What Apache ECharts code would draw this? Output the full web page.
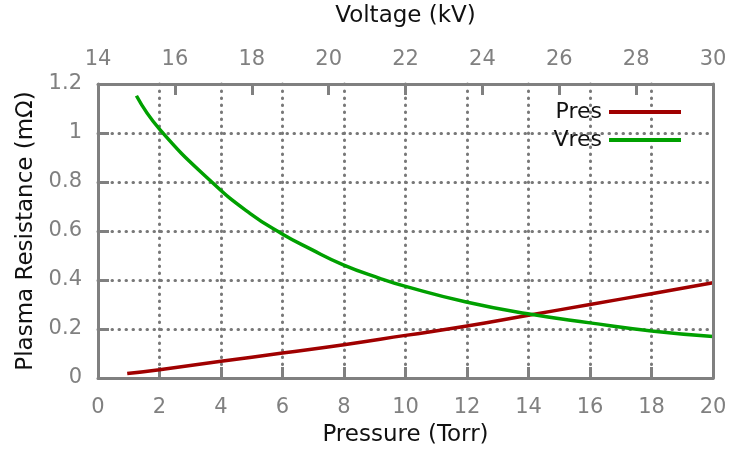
<!DOCTYPE html>
<html>
<head>
<meta charset="utf-8">
<script src="https://cdn.jsdelivr.net/npm/echarts@6/dist/echarts.min.js"></script>
<style>
  html, body { margin: 0; padding: 0; background: #fff; }
  #chart { width: 732px; height: 458px; }
</style>
</head>
<body>
<div id="chart"></div>
<script>
// Plasma resistance against pressure (bottom axis) and voltage (top axis)
var pressure = [0.95, 2, 4, 6, 8, 10, 12, 14, 16, 18, 20];           // Torr
var presValues = [0.018, 0.034, 0.068, 0.102, 0.136, 0.174, 0.212, 0.256, 0.300, 0.344, 0.389];

var voltage = [15.0, 15.6, 16.96, 17.96, 18.78, 19.51, 20.38, 21.33, 21.98, 23.58, 25.18, 26.8, 28.4, 30];  // kV
var vresValues = [1.152, 1.016, 0.80, 0.671, 0.589, 0.528, 0.462, 0.407, 0.375, 0.310, 0.262, 0.225, 0.192, 0.169];

var gray = '#808080';
var font = 'DejaVu Sans';

function pairs(xs, ys) {
  return xs.map(function (x, i) { return [x, ys[i]]; });
}

var axisLine = { show: true, onZero: false, lineStyle: { color: gray, width: 3 } };
var tick = { show: true, inside: true, length: 11, lineStyle: { color: gray, width: 3 } };
var dotted = {
  show: true, showMinLine: false, showMaxLine: false,
  lineStyle: { color: '#787878', width: 3, type: [0.5, 6.5], cap: 'round' }
};
var tickLabel = { color: gray, fontFamily: font, fontSize: 21 };
var nameStyle = { color: '#111', fontFamily: font, fontSize: 23 };

var chart = echarts.init(document.getElementById('chart'), null, { renderer: 'canvas' });
chart.setOption({
  animation: false,
  backgroundColor: '#fff',
  grid: { left: 98, right: 19, top: 83, bottom: 80 },
  legend: {
    orient: 'vertical',
    right: 46,
    top: 96,
    align: 'right',
    icon: 'rect',
    itemWidth: 72,
    itemHeight: 4,
    itemGap: 6,
    textStyle: { color: '#111', fontFamily: font, fontSize: 22, padding: [0, 2, 0, 0] },
    data: ['Pres', 'Vres']
  },
  xAxis: [
    {
      type: 'value', position: 'bottom', min: 0, max: 20, interval: 2,
      name: 'Pressure (Torr)', nameLocation: 'middle', nameGap: 46, nameTextStyle: nameStyle,
      axisLine: axisLine, axisTick: tick, axisLabel: Object.assign({ margin: 19 }, tickLabel),
      splitLine: dotted
    },
    {
      type: 'value', position: 'top', min: 14, max: 30, interval: 2, z: 4,
      name: 'Voltage (kV)', nameLocation: 'middle', nameGap: 56, nameTextStyle: nameStyle,
      axisLine: axisLine, axisTick: tick, axisLabel: Object.assign({ margin: 14 }, tickLabel),
      splitLine: { show: false }
    }
  ],
  yAxis: [
    {
      type: 'value', position: 'left', min: 0, max: 1.2, interval: 0.2,
      name: 'Plasma Resistance (mΩ)', nameLocation: 'middle', nameGap: 60, nameTextStyle: nameStyle,
      axisLine: axisLine, axisTick: tick,
      axisLabel: Object.assign({ margin: 16, formatter: function (v) { return String(+v.toFixed(1)); } }, tickLabel),
      splitLine: dotted
    },
    {
      type: 'value', position: 'right', min: 0, max: 1.2, interval: 0.2, z: 4,
      axisLine: axisLine, axisTick: { show: false }, axisLabel: { show: false },
      splitLine: { show: false }
    }
  ],
  series: [
    {
      name: 'Pres', type: 'line', xAxisIndex: 0, yAxisIndex: 0,
      data: pairs(pressure, presValues), smooth: 0.5, showSymbol: false,
      lineStyle: { color: '#a00000', width: 3.5 }, itemStyle: { color: '#a00000' }, z: 3
    },
    {
      name: 'Vres', type: 'line', xAxisIndex: 1, yAxisIndex: 0,
      data: pairs(voltage, vresValues), smooth: 0.5, showSymbol: false,
      lineStyle: { color: '#00a000', width: 3.5 }, itemStyle: { color: '#00a000' }, z: 3
    }
  ]
});
</script>
</body>
</html>
